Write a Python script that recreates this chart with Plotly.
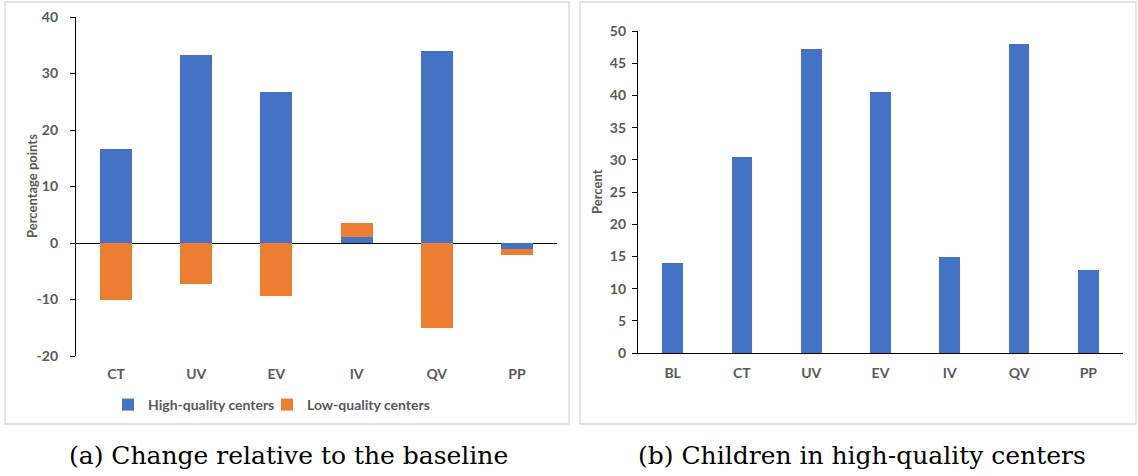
import plotly.graph_objects as go

W, H = 1138, 476

# Panel (a)
cats_a = ["CT", "UV", "EV", "IV", "QV", "PP"]
high_a = [16.6, 33.2, 26.8, 1.0, 34.0, -1.0]
low_a = [-10.0, -7.2, -9.3, 2.5, -15.0, -1.1]
ytick_vals_a = [-20, -10, 0, 10, 20, 30, 40]
ytick_text_a = ["-20", "-10", "0", "10", "20", "30", "40"]

# Panel (b)
cats_b = ["BL", "CT", "UV", "EV", "IV", "QV", "PP"]
high_b = [13.9, 30.4, 47.2, 40.5, 14.9, 48.0, 12.9]

BLUE = "#4472C4"
ORANGE = "#ED7D31"
GREY = "#595959"

def px(x):
    return x / W

def py(y):
    return 1 - y / H

fig = go.Figure()
fig.add_trace(go.Bar(x=cats_a, y=high_a, name="High-quality centers", marker_color=BLUE,
                     marker_line_width=0, width=0.4, xaxis="x", yaxis="y", legend="legend"))
fig.add_trace(go.Bar(x=cats_a, y=low_a, name="Low-quality centers", marker_color=ORANGE,
                     marker_line_width=0, width=0.4, xaxis="x", yaxis="y", legend="legend2"))
fig.add_trace(go.Bar(x=cats_b, y=high_b, name="Children", marker_color=BLUE,
                     marker_line_width=0, width=0.3, xaxis="x2", yaxis="y2", showlegend=False))

tickfont = dict(family="Lato", size=14, color=GREY, weight="bold")
titlefont = dict(family="Lato", size=13, color=GREY, weight="bold")
legfont = dict(family="Lato", size=14, color=GREY, weight="bold")

fig.update_layout(
    template="none",
    width=W, height=H,
    margin=dict(l=0, r=0, t=0, b=0, autoexpand=False),
    paper_bgcolor="white", plot_bgcolor="white",
    barmode="relative",
    bargap=0,
    showlegend=True,
    legend=dict(orientation="h", x=px(108), xanchor="left", y=py(405), yanchor="middle",
                font=legfont, itemwidth=30, bgcolor="rgba(0,0,0,0)"),
    legend2=dict(orientation="h", x=px(267), xanchor="left", y=py(405), yanchor="middle",
                 font=legfont, itemwidth=30, bgcolor="rgba(0,0,0,0)"),
    xaxis=dict(domain=[px(76), px(557)], range=[-0.5, 5.5], type="category",
               showline=False, ticks="", showgrid=False, tickfont=tickfont,
               anchor="y", automargin=False, ticklabelstandoff=8),
    yaxis=dict(domain=[py(356), py(17)], range=[-20, 40],
               tickvals=ytick_vals_a, ticktext=ytick_text_a,
               showline=True, linecolor="black", linewidth=1.3,
               ticks="outside", ticklen=5, tickcolor="black",
               showgrid=False, zeroline=True, zerolinecolor="black", zerolinewidth=1.3,
               tickfont=tickfont, anchor="x", automargin=False, ticklabelstandoff=9),
    xaxis2=dict(domain=[px(638), px(1123)], range=[-0.5, 6.5], type="category",
                showline=True, linecolor="black", linewidth=1.3, ticks="",
                showgrid=False, tickfont=tickfont, anchor="y2", automargin=False,
                ticklabelstandoff=7),
    yaxis2=dict(domain=[py(353), py(31)], range=[0, 50], dtick=5,
                showline=True, linecolor="black", linewidth=1.3,
                ticks="outside", ticklen=5, tickcolor="black",
                showgrid=False, zeroline=False,
                tickfont=tickfont, anchor="x2", automargin=False, ticklabelstandoff=3),
    shapes=[
        dict(type="rect", xref="paper", yref="paper", x0=px(5), x1=px(569), y0=py(424), y1=py(2),
             line=dict(color="#d9d9d9", width=1.3)),
        dict(type="rect", xref="paper", yref="paper", x0=px(580), x1=px(1136), y0=py(424), y1=py(2),
             line=dict(color="#d9d9d9", width=1.3)),
    ],
    annotations=[
        dict(text="Percentage points", xref="paper", yref="paper", textangle=-90,
             x=px(32), y=py(186), xanchor="center", yanchor="middle", showarrow=False,
             font=titlefont),
        dict(text="Percent", xref="paper", yref="paper", textangle=-90,
             x=px(597), y=py(192), xanchor="center", yanchor="middle", showarrow=False,
             font=titlefont),
        dict(text="(a) Change relative to the baseline", xref="paper", yref="paper",
             x=px(288), y=py(455), xanchor="center", yanchor="middle", showarrow=False,
             font=dict(family="DejaVu Serif", size=25, color="black")),
        dict(text="(b) Children in high-quality centers", xref="paper", yref="paper",
             x=px(862), y=py(455), xanchor="center", yanchor="middle", showarrow=False,
             font=dict(family="DejaVu Serif", size=25, color="black")),
    ],
)

fig.write_html("out.html")
